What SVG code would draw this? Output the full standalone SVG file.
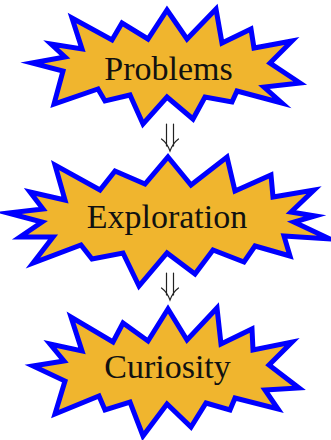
<svg xmlns="http://www.w3.org/2000/svg" width="331" height="440" viewBox="0 0 331 440">
<style>
.burst{fill:#F0B52E;stroke:#0000FF;stroke-width:5;stroke-linejoin:miter;stroke-miterlimit:20}
.lbl{font-family:'Liberation Serif','DejaVu Serif',serif;font-size:34px;fill:#111;text-anchor:middle}
.conn{fill:none;stroke:#222;stroke-width:1.2;stroke-linecap:round}
</style>
<rect width="331" height="440" fill="#fff"/>
<g id="connectors">
<path class="conn" d="M166.5,124V146M173.5,124V146M161.5,139Q167,143 170,151Q173,143 178.5,139"/>
<path class="conn" d="M166.5,273V295M173.5,273V295M161.5,288Q167,292 170,300Q173,292 178.5,288"/>
</g>
<g id="problems">
<polygon class="burst" points="167,10 187,39 216,9 222,43 251,29 254,48 292,41 270,63 300,83 264,87 282,103 237,91 232,102 205,97 193,119 167,97 143,124 130,95 105,101 98,89 54,104 63,71 32,63 65,57 51,44 82,49 72,18 112,40 122,23 148,39"/>
<text class="lbl" font-family="Liberation Serif, serif" x="168.5" y="80">Problems</text>
</g>
<g id="exploration">
<polygon class="burst" points="168,157 191,185 227,157 235,191 271,175 273,197 314,190 291,212 315,216 294,222 330,239 284,236 290,256 255,246 244,262 213,250 195,274 167,253 139,286 123,253 92,259 81,245 33,263 53,237 20,237 42,222 8,213 43,209 30,192 65,200 55,165 100,190 115,171 145,184"/>
<text class="lbl" font-family="Liberation Serif, serif" x="167" y="228">Exploration</text>
</g>
<g id="curiosity">
<polygon class="burst" points="168,309 187,340 217,308 221,344 252,329 253,350 292,342 269,365 299,388 265,390 278,409 235,398 230,410 206,403 191,427 167,404 143,436 130,402 105,410 99,396 55,414 65,381 33,366 64,361 50,344 82,351 71,317 113,342 123,323 148,341"/>
<text class="lbl" font-family="Liberation Serif, serif" x="167.5" y="378">Curiosity</text>
</g>
</svg>
